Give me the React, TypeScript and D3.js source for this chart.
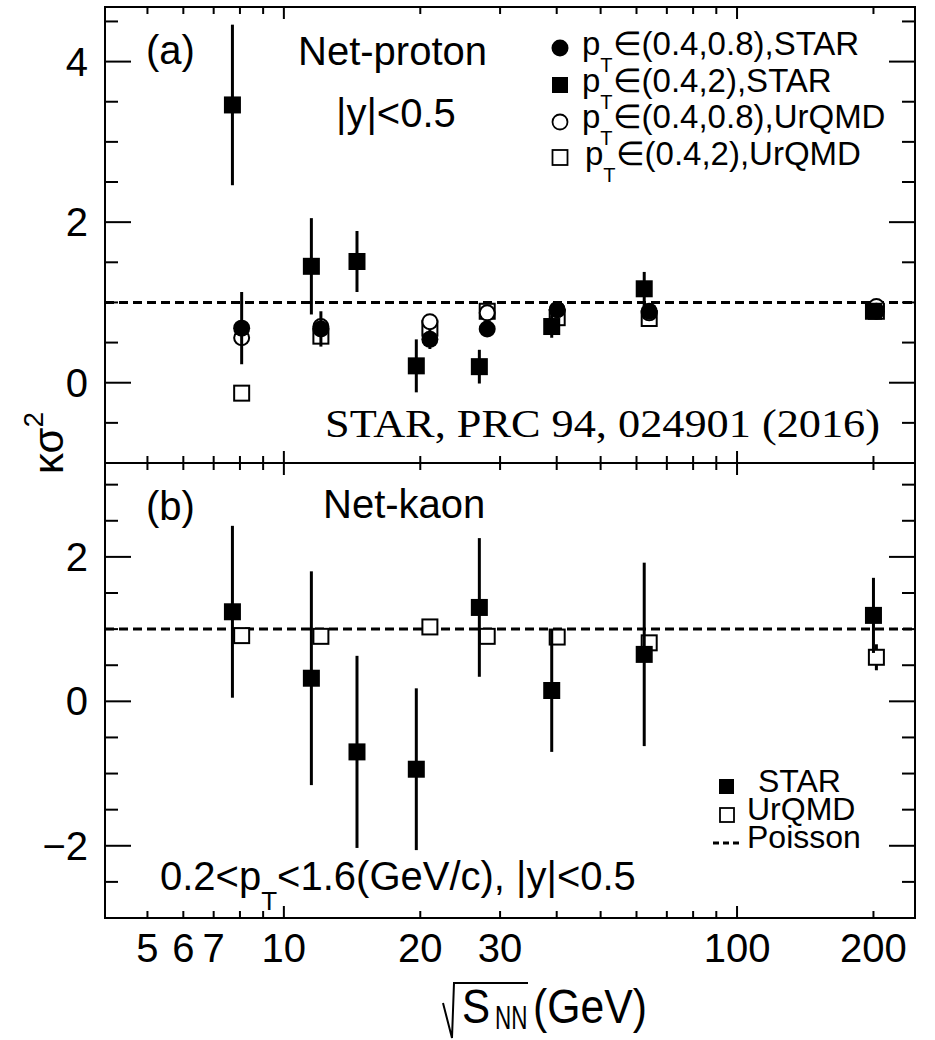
import React from "react";
import * as d3 from "d3";

// ---------- data ----------
const energies = [7.7, 11.5, 14.5, 19.6, 27, 39, 62.4, 200];
// plotting positions of the pT(0.4,0.8) STAR points and of the UrQMD points (slightly shifted in energy)
const shiftedEnergies = [8.07, 12.07, 21.0, 28.1, 40.1, 64.0, 203];

// (a) net-proton
const protonStarWide = [3.46, 1.45, 1.51, 0.21, 0.2, 0.7, 1.17, 0.89];
const protonStarWideErr = [1.0, 0.6, 0.38, 0.33, 0.21, 0.14, 0.21, 0.05];
const protonStarNarrow = [0.68, 0.67, 0.54, 0.67, 0.91, 0.89, 0.89];
const protonStarNarrowErr = [0.45, 0.22, 0.12, 0.05, 0.05, 0.05, 0.04];
const protonUrqmdNarrow = [0.56, 0.7, 0.76, 0.87, 0.91, 0.87, 0.95];
const protonUrqmdWide = [-0.13, 0.58, 0.68, 0.89, 0.81, 0.8, 0.89];

// (b) net-kaon
const kaonStar = [1.24, 0.32, -0.7, -0.94, 1.3, 0.15, 0.65, 1.19];
const kaonStarErr = [1.19, 1.48, 1.33, 1.12, 0.96, 0.85, 1.27, 0.52];
const kaonUrqmd = [0.91, 0.9, 1.03, 0.9, 0.89, 0.81, 0.61];
const kaonUrqmdErr = [0, 0, 0, 0, 0, 0, 0.18];

const poissonValue = 1;

// ---------- axes ----------
const xTickLabels = [5, 6, 7, 10, 20, 30, 100, 200];
const xMajorTicks = [10, 100];
const xMinorTicks = [5, 6, 7, 8, 9, 20, 30, 40, 50, 60, 70, 80, 90, 200];
const yMajorA = [0, 2, 4];
const yMinorA = [-0.5, 0.5, 1, 1.5, 2.5, 3, 3.5, 4.5];
const yMajorB = [-2, 0, 2];
const yMinorB = [-2.5, -1.5, -1, -0.5, 0.5, 1, 1.5, 2.5, 3];

const W = 935;
const H = 1040;
const L = 105;
const R = 915;
const TOP = 7;
const MID = 463;
const BOT = 918;

const FONT = "'Liberation Sans', Arial, Helvetica, sans-serif";
const SERIF = "'Liberation Serif', 'Times New Roman', serif";

const x = d3.scaleLog().domain([4.03, 247]).range([L, R]);
const yA = d3.scaleLinear().domain([-1, 4.68]).range([MID, TOP]);
const yB = d3.scaleLinear().domain([-3, 3.3]).range([BOT, MID]);

const MS = 17; // marker size

type Pt = { e: number; v: number; err: number };

function zip(es: number[], vs: number[], errs?: number[]): Pt[] {
  return es.map((e, i) => ({ e, v: vs[i], err: errs ? errs[i] : 0 }));
}

function ErrorBars({ pts, y }: { pts: Pt[]; y: d3.ScaleLinear<number, number> }) {
  return (
    <g stroke="#000" strokeWidth={3}>
      {pts
        .filter((p) => p.err > 0)
        .map((p, i) => (
          <line key={i} x1={x(p.e)} x2={x(p.e)} y1={y(p.v + p.err)} y2={y(p.v - p.err)} />
        ))}
    </g>
  );
}

function Markers({
  pts,
  y,
  shape,
  filled,
}: {
  pts: Pt[];
  y: d3.ScaleLinear<number, number>;
  shape: "circle" | "square";
  filled: boolean;
}) {
  return (
    <g>
      {pts.map((p, i) => {
        const cx = x(p.e);
        const cy = y(p.v);
        return shape === "circle" ? (
          <circle
            key={i}
            cx={cx}
            cy={cy}
            r={filled ? MS / 2 : MS / 2 - 1}
            fill={filled ? "#000" : "#fff"}
            stroke="#000"
            strokeWidth={filled ? 0 : 2}
          />
        ) : filled ? (
          <rect key={i} x={cx - MS / 2} y={cy - MS / 2} width={MS} height={MS} fill="#000" />
        ) : (
          <rect
            key={i}
            x={cx - (MS - 2) / 2}
            y={cy - (MS - 2) / 2}
            width={MS - 2}
            height={MS - 2}
            fill="#fff"
            stroke="#000"
            strokeWidth={2}
          />
        );
      })}
    </g>
  );
}

function Frame({
  y,
  major,
  minor,
  top,
  bot,
}: {
  y: d3.ScaleLinear<number, number>;
  major: number[];
  minor: number[];
  top: number;
  bot: number;
}) {
  return (
    <g stroke="#000" strokeWidth={2} fill="none">
      <rect x={L} y={top} width={R - L} height={bot - top} />
      {major.map((v) => (
        <g key={"M" + v}>
          <line x1={L} x2={L + 26} y1={y(v)} y2={y(v)} />
          <line x1={R} x2={R - 26} y1={y(v)} y2={y(v)} />
        </g>
      ))}
      {minor.map((v) => (
        <g key={"m" + v}>
          <line x1={L} x2={L + 13} y1={y(v)} y2={y(v)} />
          <line x1={R} x2={R - 13} y1={y(v)} y2={y(v)} />
        </g>
      ))}
      {xMajorTicks.map((e) => (
        <g key={"xM" + e}>
          <line x1={x(e)} x2={x(e)} y1={top} y2={top + 12} />
          <line x1={x(e)} x2={x(e)} y1={bot} y2={bot - 12} />
        </g>
      ))}
      {xMinorTicks.map((e) => (
        <g key={"xm" + e}>
          <line x1={x(e)} x2={x(e)} y1={top} y2={top + 7} />
          <line x1={x(e)} x2={x(e)} y1={bot} y2={bot - 7} />
        </g>
      ))}
    </g>
  );
}

function Poisson({ y }: { y: d3.ScaleLinear<number, number> }) {
  return (
    <line
      x1={L}
      x2={R}
      y1={y(poissonValue)}
      y2={y(poissonValue)}
      stroke="#000"
      strokeWidth={3}
      strokeDasharray="9 5"
    />
  );
}

export default function App() {
  const aWide = zip(energies, protonStarWide, protonStarWideErr);
  const aNarrow = zip(shiftedEnergies, protonStarNarrow, protonStarNarrowErr);
  const aUrN = zip(shiftedEnergies, protonUrqmdNarrow);
  const aUrW = zip(shiftedEnergies, protonUrqmdWide);
  const bStar = zip(energies, kaonStar, kaonStarErr);
  const bUr = zip(shiftedEnergies, kaonUrqmd, kaonUrqmdErr);

  return (
    <svg width={W} height={H} style={{ display: "block", position: "absolute", left: 0, top: 0 }} fontFamily={FONT}>
      <rect x={0} y={0} width={W} height={H} fill="#fff" />

      {/* ---------- panel (a) ---------- */}
      <Poisson y={yA} />
      <Markers pts={aUrW} y={yA} shape="square" filled={false} />
      <Markers pts={aUrN} y={yA} shape="circle" filled={false} />
      <ErrorBars pts={aNarrow} y={yA} />
      <Markers pts={aNarrow} y={yA} shape="circle" filled={true} />
      <ErrorBars pts={aWide} y={yA} />
      <Markers pts={aWide} y={yA} shape="square" filled={true} />
      <Frame y={yA} major={yMajorA} minor={yMinorA} top={TOP} bot={MID} />

      <text x={146} y={64} fontSize={40}>(a)</text>
      <text x={298} y={65} fontSize={40}>Net-proton</text>
      <text x={336} y={127} fontSize={40}>|y|&lt;0.5</text>

      {/* legend (a) */}
      <circle cx={560} cy={48} r={8.5} fill="#000" />
      <rect x={552} y={77} width={16} height={16} fill="#000" />
      <circle cx={560} cy={122} r={7.5} fill="#fff" stroke="#000" strokeWidth={1.8} />
      <rect x={552.5} y={150} width={15} height={15} fill="#fff" stroke="#000" strokeWidth={1.8} />
      <g fontSize={33}>
        <text x={582} y={55}>
          p<tspan fontSize={20} dy={17}>T</tspan>
          <tspan dy={-17}>∈(0.4,0.8),STAR</tspan>
        </text>
        <text x={582} y={92}>
          p<tspan fontSize={20} dy={17}>T</tspan>
          <tspan dy={-17}>∈(0.4,2),STAR</tspan>
        </text>
        <text x={582} y={128}>
          p<tspan fontSize={20} dy={17}>T</tspan>
          <tspan dy={-17}>∈(0.4,0.8),UrQMD</tspan>
        </text>
        <text x={585} y={165}>
          p<tspan fontSize={20} dy={17}>T</tspan>
          <tspan dy={-17}>∈(0.4,2),UrQMD</tspan>
        </text>
      </g>

      <text x={325} y={437} fontSize={39} fontFamily={SERIF} textLength={555} lengthAdjust="spacingAndGlyphs">
        STAR, PRC 94, 024901 (2016)
      </text>

      {/* ---------- panel (b) ---------- */}
      <Poisson y={yB} />
      <ErrorBars pts={bUr} y={yB} />
      <Markers pts={bUr} y={yB} shape="square" filled={false} />
      <ErrorBars pts={bStar} y={yB} />
      <Markers pts={bStar} y={yB} shape="square" filled={true} />
      <Frame y={yB} major={yMajorB} minor={yMinorB} top={MID} bot={BOT} />

      <text x={146} y={520} fontSize={40}>(b)</text>
      <text x={323} y={518} fontSize={40}>Net-kaon</text>

      <text x={160} y={890} fontSize={40}>
        0.2&lt;p<tspan fontSize={26} dy={20}>T</tspan>
        <tspan dy={-20}>&lt;1.6(GeV/c), |y|&lt;0.5</tspan>
      </text>

      {/* legend (b) */}
      <rect x={719} y={779} width={15} height={15} fill="#000" />
      <rect x={720} y={808} width={14} height={14} fill="#fff" stroke="#000" strokeWidth={1.8} />
      <line x1={713} x2={741} y1={843} y2={843} stroke="#000" strokeWidth={3} strokeDasharray="6 4" />
      <g fontSize={32}>
        <text x={758} y={792}>STAR</text>
        <text x={747} y={820}>UrQMD</text>
        <text x={747} y={848}>Poisson</text>
      </g>

      {/* ---------- axis labels ---------- */}
      <g fontSize={40} textAnchor="end">
        {yMajorA.map((v) => (
          <text key={"ya" + v} x={88} y={yA(v) + 14}>
            {d3.format("d")(v)}
          </text>
        ))}
        {yMajorB.map((v) => (
          <text key={"yb" + v} x={88} y={yB(v) + 14}>
            {d3.format("d")(v)}
          </text>
        ))}
      </g>
      <g fontSize={40} textAnchor="middle">
        {xTickLabels.map((e) => (
          <text key={"xl" + e} x={x(e)} y={962}>
            {e}
          </text>
        ))}
      </g>

      {/* y axis title */}
      <text transform="translate(63,443) rotate(-90)" fontSize={42} textAnchor="middle">
        κσ<tspan fontSize={28} dy={-20}>2</tspan>
      </text>

      {/* x axis title */}
      <path d="M443,1003 L452,1038 L454,983 L528,983" fill="none" stroke="#000" strokeWidth={2} />
      <text transform="translate(462,1023) scale(0.86,1)" fontSize={49}>S</text>
      <text transform="translate(495,1029) scale(0.66,1)" fontSize={34}>NN</text>
      <text transform="translate(533,1023) scale(0.89,1)" fontSize={48}>(GeV)</text>
    </svg>
  );
}
